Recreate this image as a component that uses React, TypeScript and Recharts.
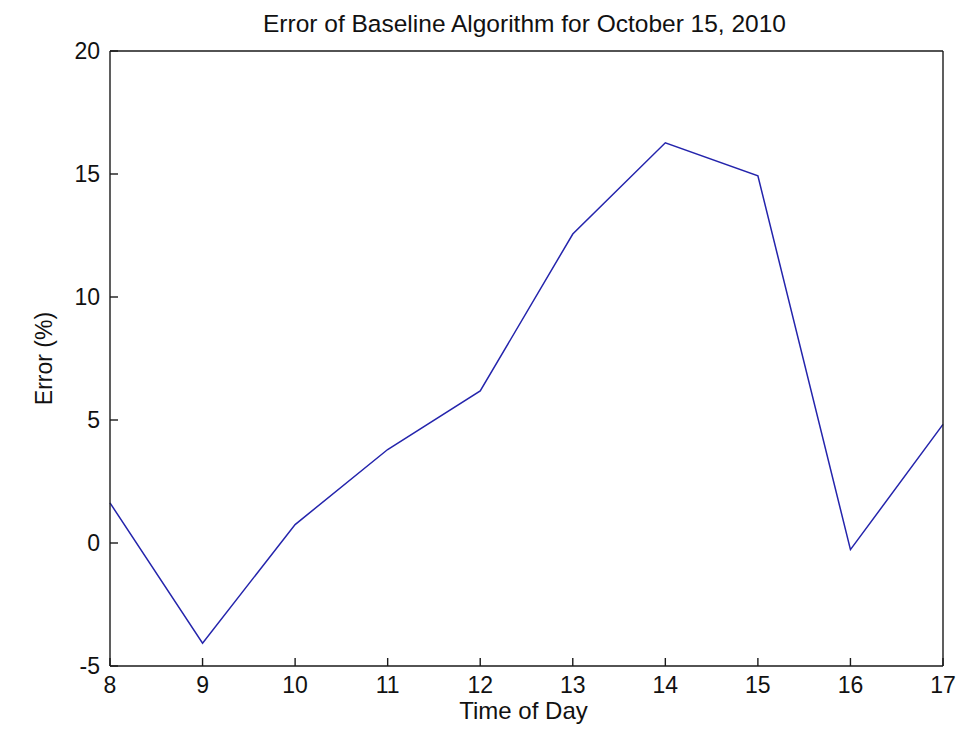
import React from 'react';
import { LineChart, Line, XAxis, YAxis, Label } from 'recharts';

const hours = [8, 9, 10, 11, 12, 13, 14, 15, 16, 17];
const errorPct = [1.63, -4.07, 0.75, 3.8, 6.18, 12.56, 16.27, 14.93, -0.27, 4.82];
const yTicks = [-5, 0, 5, 10, 15, 20];

const data = hours.map((hour, i) => ({ hour, error: errorPct[i] }));

const FONT = '"Liberation Sans", Arial, Helvetica, sans-serif';
const INK = '#111111';
const AXIS = '#1a1a1a';
// negative size turns the tick marks inward, into the plot box
const TICK_IN = -8;

const axisLine = { stroke: AXIS, strokeWidth: 1.4 };
const tickLine = { stroke: AXIS, strokeWidth: 1.4 };
const tickText = { fontSize: 23, fontFamily: FONT, fill: INK };

const App: React.FC = () => {
  return (
    <div style={{ position: 'absolute', left: 0, top: 0, background: '#ffffff' }}>
      <LineChart width={963} height={734} data={data} margin={{ top: 0, right: 0, bottom: 0, left: 0 }}>
        <XAxis
          dataKey="hour"
          type="number"
          domain={[8, 17]}
          ticks={hours}
          interval={0}
          height={68}
          tickSize={TICK_IN}
          tickMargin={19}
          tickLine={tickLine}
          axisLine={axisLine}
          tick={tickText}
        >
          <Label
            content={({ viewBox }: any) => (
              <text
                x={viewBox.x + viewBox.width / 2 - 3}
                y={viewBox.y + 53}
                textAnchor="middle"
                fontSize={24}
                fontFamily={FONT}
                fill={INK}
              >
                Time of Day
              </text>
            )}
          />
        </XAxis>
        <XAxis
          xAxisId="top"
          orientation="top"
          dataKey="hour"
          type="number"
          domain={[8, 17]}
          ticks={hours}
          interval={0}
          height={51}
          tickSize={TICK_IN}
          tickLine={tickLine}
          axisLine={axisLine}
          tick={false}
        >
          <Label
            content={({ viewBox }: any) => (
              <text
                x={viewBox.x + viewBox.width / 2 - 2}
                y={viewBox.y + 32}
                textAnchor="middle"
                fontSize={24.5}
                fontFamily={FONT}
                fill={INK}
              >
                Error of Baseline Algorithm for October 15, 2010
              </text>
            )}
          />
        </XAxis>
        <YAxis
          type="number"
          domain={[-5, 20]}
          ticks={yTicks}
          interval={0}
          width={110}
          tickSize={TICK_IN}
          tickMargin={18}
          tickLine={tickLine}
          axisLine={axisLine}
          tick={tickText}
        >
          <Label
            content={({ viewBox }: any) => {
              const cx = viewBox.x + 44;
              const cy = viewBox.y + viewBox.height / 2;
              return (
                <text
                  x={cx}
                  y={cy}
                  transform={`rotate(-90 ${cx} ${cy})`}
                  textAnchor="middle"
                  dominantBaseline="central"
                  fontSize={23}
                  fontFamily={FONT}
                  fill={INK}
                >
                  Error (%)
                </text>
              );
            }}
          />
        </YAxis>
        <YAxis
          yAxisId="right"
          orientation="right"
          type="number"
          domain={[-5, 20]}
          ticks={yTicks}
          interval={0}
          width={20}
          tickSize={TICK_IN}
          tickLine={tickLine}
          axisLine={axisLine}
          tick={false}
        />
        <Line
          type="linear"
          dataKey="error"
          stroke="#2424ac"
          strokeWidth={1.5}
          dot={false}
          activeDot={false}
          isAnimationActive={false}
        />
      </LineChart>
    </div>
  );
};

export default App;
